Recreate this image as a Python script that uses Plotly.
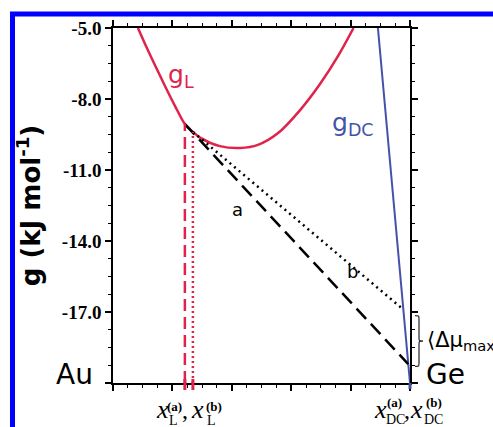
import plotly.graph_objects as go

# ---------------- data ----------------
gL_x = [0.084, 0.111, 0.141, 0.175, 0.209, 0.242, 0.269, 0.293, 0.360, 0.428,
        0.488, 0.556, 0.630, 0.697, 0.758, 0.810]
gL_y = [-5.0, -5.76, -6.56, -7.45, -8.30, -9.06, -9.39, -9.63, -9.99, -10.07,
        -9.94, -9.44, -8.47, -7.37, -6.18, -5.0]

gDC_x = [0.892, 1.0]
gDC_y = [-5.0, -20.0]

x_L = [0.242, 0.269]          # x_L^(a), x_L^(b)
g_at_xL = [-9.06, -9.39]
x_DC = [0.994, 0.978]         # x_DC^(a), x_DC^(b) (end points on g_DC)
g_at_xDC = [-19.2, -16.9]

y_tickvals = [-5, -8, -11, -14, -17, -20]
y_ticktext = ["-5.0", "-8.0", "-11.0", "-14.0", "-17.0", ""]

# ---------------- style ----------------
RED = "#E0234B"
BLUE = "#4452AA"
W, H = 493, 427
ML, MR, MT, MB = 113, 83, 28, 44
PW, PH = W - ML - MR, H - MT - MB
XR = [0, 1]
YR = [-20, -5]


def P(px, py):
    return (px - ML) / PW, (H - MB - py) / PH


def ypap(v):
    return (v - YR[0]) / (YR[1] - YR[0])


fig = go.Figure()

fig.add_trace(go.Scatter(x=gL_x, y=gL_y, mode="lines",
                         line=dict(color=RED, width=2.5, shape="spline", smoothing=0.8),
                         hoverinfo="skip"))
fig.add_trace(go.Scatter(x=gDC_x, y=gDC_y, mode="lines",
                         line=dict(color=BLUE, width=2), hoverinfo="skip"))
# common tangents
fig.add_trace(go.Scatter(x=[x_L[0], x_DC[0]], y=[g_at_xL[0], g_at_xDC[0]], mode="lines",
                         line=dict(color="black", width=2.5, dash="14px,7px"), hoverinfo="skip"))
fig.add_trace(go.Scatter(x=[x_L[1], x_DC[1]], y=[g_at_xL[1], g_at_xDC[1]], mode="lines",
                         line=dict(color="black", width=2.5, dash="2px,4px"), hoverinfo="skip"))
# vertical markers at x_L
fig.add_trace(go.Scatter(x=[x_L[0], x_L[0]], y=[YR[0], g_at_xL[0]], mode="lines",
                         line=dict(color=RED, width=2.5, dash="12px,6px"), hoverinfo="skip"))
fig.add_trace(go.Scatter(x=[x_L[1], x_L[1]], y=[YR[0], g_at_xL[1]], mode="lines",
                         line=dict(color=RED, width=2.5, dash="2px,3px"), hoverinfo="skip"))

shapes = []
# blue frame
x0, y1 = P(12.5, 14)
x1, y0 = P(540, 470)
shapes.append(dict(type="rect", xref="paper", yref="paper", x0=x0, x1=x1, y0=y0, y1=y1,
                   line=dict(color="#0000FF", width=5), fillcolor="rgba(0,0,0,0)"))
# coloured ticks below the axis
for xv in x_L:
    shapes.append(dict(type="line", xref="paper", yref="paper", x0=xv, x1=xv,
                       y0=-7 / PH, y1=4 / PH, line=dict(color=RED, width=3)))
shapes.append(dict(type="line", xref="paper", yref="paper", x0=gDC_x[1], x1=gDC_x[1],
                   y0=-6 / PH, y1=0, line=dict(color=BLUE, width=3)))

# brace between tangent end points
bx0 = 1 + 5 / PW
bx1 = 1 + 13 / PW
bxa = (bx0 + bx1) / 2
yt = ypap(g_at_xDC[1] - 0.25)
yb = ypap(g_at_xDC[0] - 0.1)
ym = (yt + yb) / 2
q = 4 / PH
brace = (f"M {bx0},{yt} C {bxa},{yt} {bxa},{yt} {bxa},{yt - q} "
         f"L {bxa},{ym + q} C {bxa},{ym} {bxa},{ym} {bx1},{ym} "
         f"C {bxa},{ym} {bxa},{ym} {bxa},{ym - q} "
         f"L {bxa},{yb + q} C {bxa},{yb} {bxa},{yb} {bx0},{yb}")
shapes.append(dict(type="path", xref="paper", yref="paper", path=brace,
                   line=dict(color="#333333", width=1.3)))

SANS = "DejaVu Sans"
SERIF = "Liberation Serif"
anns = []


def ann(text, px, py, size, family=SANS, color="black", xanchor="center",
        yanchor="middle", weight="normal", style="normal"):
    x, y = P(px, py)
    anns.append(dict(text=text, x=x, y=y, xref="paper", yref="paper", showarrow=False,
                     xanchor=xanchor, yanchor=yanchor,
                     font=dict(family=family, size=size, color=color, weight=weight, style=style)))


ann("g<sub>L</sub>", 166, 76, 25, color=RED, xanchor="left")
ann("g<sub>DC</sub>", 330, 124, 25, color=BLUE, xanchor="left")
ann("a", 237.5, 209, 18)
ann("b", 352, 271, 18)
ann("Au", 74, 374, 28)
ann("Ge", 446, 374, 28)
ann("⟨Δμ<sub>max</sub>⟩", 425, 341, 21, xanchor="left")

# bottom composition labels
for (xc, supc, subc, sub) in [(162, 174.5, 173.5, "L"), (197.5, 213.5, 211, "L")]:
    ann("x", xc, 410, 26, family=SERIF, style="italic")
    ann("(a)" if xc < 180 else "(b)", supc, 406.5, 13, family=SERIF, weight="bold")
    ann(sub, subc, 420.5, 14, family=SERIF)
ann(",", 185, 410, 24, family=SERIF)
for (xc, supc, subc, lab) in [(380, 394.5, 395, "(a)"), (416.5, 434, 433, "(b)")]:
    ann("x", xc, 410, 26, family=SERIF, style="italic")
    ann(lab, supc, 402.5, 13, family=SERIF, weight="bold")
    ann("DC", subc, 419.5, 14, family=SERIF)
ann(",", 407, 410, 24, family=SERIF)

fig.update_layout(
    width=W, height=H,
    margin=dict(l=ML, r=MR, t=MT, b=MB, autoexpand=False),
    paper_bgcolor="white", plot_bgcolor="white",
    showlegend=False,
    shapes=shapes, annotations=anns,
    xaxis=dict(range=XR, showgrid=False, zeroline=False, showline=True, linecolor="black",
               linewidth=1.5, mirror="ticks", ticks="outside", ticklen=6, tickwidth=1.5,
               tickcolor="black", tickmode="linear", tick0=0, dtick=0.2,
               showticklabels=False,
               minor=dict(ticks="outside", ticklen=3, tickwidth=1, tickcolor="black",
                          tickmode="linear", tick0=0, dtick=0.05)),
    yaxis=dict(range=YR, showgrid=False, zeroline=False, showline=True, linecolor="black",
               linewidth=1.5, mirror="ticks", ticks="outside", ticklen=6, tickwidth=1.5,
               tickcolor="black", tickmode="array", tickvals=y_tickvals, ticktext=y_ticktext,
               tickfont=dict(family=SERIF, size=19, color="black", weight="bold"),
               minor=dict(ticks="outside", ticklen=3, tickwidth=1, tickcolor="black",
                          tickmode="linear", tick0=-20, dtick=0.75),
               title=dict(text="g (kJ mol<sup>-1</sup>)", standoff=14,
                          font=dict(family=SANS, size=26, color="black", weight="bold"))),
)

fig.write_html("out.html", config={"displayModeBar": False},
               post_script="document.body.style.margin='0';document.body.style.overflow='hidden';")
